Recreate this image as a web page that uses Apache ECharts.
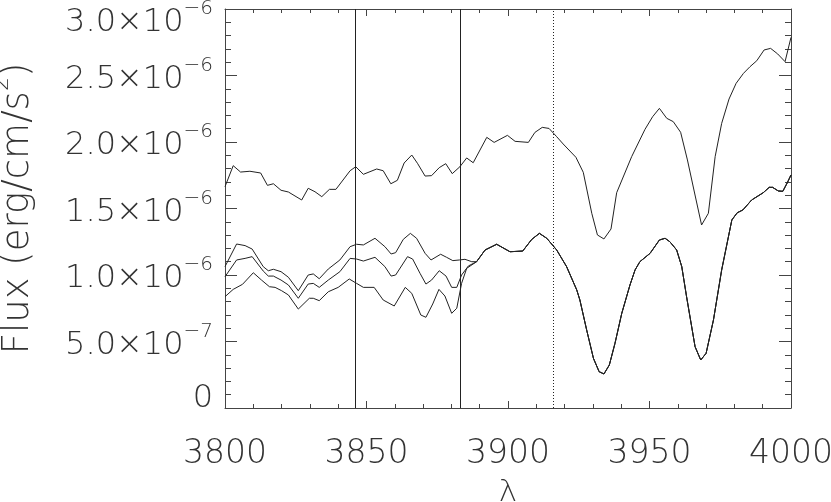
<!DOCTYPE html>
<html>
<head>
<meta charset="utf-8">
<script src="https://cdn.jsdelivr.net/npm/echarts@6/dist/echarts.min.js"></script>
<style>html,body{margin:0;padding:0;background:#fff}#c{width:831px;height:502px}</style>
</head>
<body>
<div id="c"></div>
<script>
// ---- data (flux in units of 1e-6 erg/cm/s^2) ----
const FLUX_UNIT = 1e-6;
const xTicks = [3800, 3850, 3900, 3950, 4000];
const yTicks = [0, 0.5e-6, 1.0e-6, 1.5e-6, 2.0e-6, 2.5e-6, 3.0e-6];
const markerSolid = [3846, 3883];
const markerDotted = [3916];

const upperWave = [3800.0,3802.9,3805.5,3808.8,3812.6,3815.0,3817.1,3819.8,3822.4,3827.1,3829.4,3831.8,3834.2,3836.9,3839.2,3844.2,3846.2,3848.9,3853.6,3855.9,3858.6,3860.9,3863.3,3866.0,3868.0,3870.7,3873.0,3875.7,3878.0,3880.3,3883.0,3885.4,3887.7,3892.5,3895.1,3899.8,3902.5,3907.2,3909.5,3912.1,3914.5,3917.2,3919.5,3924.0,3926.6,3929.6,3931.6,3933.9,3936.4,3938.4,3943.7,3948.4,3951.1,3953.5,3956.1,3958.4,3961.0,3963.4,3965.7,3968.4,3970.8,3973.2,3975.5,3978.1,3980.6,3983.2,3985.5,3987.9,3990.5,3992.8,3995.3,3997.9,4000.0];
const upperFlux = [1.664,1.822,1.774,1.780,1.767,1.674,1.686,1.637,1.624,1.564,1.652,1.626,1.589,1.644,1.644,1.784,1.814,1.757,1.797,1.784,1.686,1.712,1.842,1.902,1.840,1.744,1.747,1.807,1.837,1.762,1.814,1.880,1.844,2.035,1.997,2.050,2.005,1.997,2.072,2.110,2.102,2.040,1.985,1.885,1.772,1.464,1.301,1.271,1.346,1.619,1.890,2.095,2.190,2.253,2.178,2.153,2.073,1.865,1.639,1.376,1.464,1.890,2.140,2.323,2.441,2.516,2.566,2.611,2.692,2.704,2.662,2.604,2.787];

const aWave = [3800.0,3804.1,3807.1,3809.6,3813.5,3815.3,3817.1,3819.8,3822.4,3825.9,3829.4,3831.2,3833.3,3836.5,3840.6,3844.2,3846.5,3848.9,3853.0,3856.5,3858.7,3860.3,3863.0,3865.5,3867.7,3870.7,3872.8,3876.2,3878.3,3880.5,3882.8,3884.8,3887.2];
const aFlux = [1.063,1.233,1.221,1.195,1.063,1.032,1.043,1.025,0.983,0.882,1.000,1.008,0.972,1.045,1.113,1.213,1.231,1.226,1.276,1.213,1.158,1.168,1.268,1.313,1.276,1.163,1.113,1.156,1.133,1.108,1.113,1.118,1.100];

const bWave = [3800.0,3804.1,3807.1,3809.6,3813.5,3815.3,3817.1,3819.8,3822.4,3825.9,3829.4,3831.2,3833.3,3836.5,3840.6,3844.2,3846.5,3848.9,3853.0,3856.5,3858.7,3860.3,3864.5,3866.3,3868.9,3871.0,3873.0,3875.7,3878.1,3880.1,3881.9,3883.6,3886.0];
const bFlux = [0.987,1.113,1.125,1.138,1.030,0.992,0.992,0.962,0.925,0.825,0.932,0.937,0.907,0.962,1.025,1.125,1.120,1.105,1.133,1.063,0.992,1.000,1.138,1.120,1.013,0.932,0.962,1.032,0.992,0.907,0.907,1.000,1.068];

const cWave = [3800.0,3802.9,3806.2,3810.0,3812.9,3815.7,3817.7,3820.0,3822.4,3825.9,3829.8,3831.2,3833.3,3836.5,3840.0,3843.9,3846.5,3848.9,3852.7,3855.9,3859.8,3863.7,3866.0,3869.2,3871.0,3873.4,3875.6,3877.7,3880.1,3881.9,3883.6,3885.4];
const cFlux = [0.837,0.892,0.930,1.017,0.962,0.912,0.907,0.882,0.850,0.744,0.825,0.825,0.807,0.874,0.907,0.970,0.937,0.907,0.907,0.812,0.767,0.907,0.862,0.699,0.682,0.782,0.892,0.842,0.712,0.750,0.937,1.050];

// shared tail of the three lower spectra
const tailWave = [3888.9,3891.9,3896.0,3900.7,3905.2,3908.4,3911.1,3913.7,3917.2,3920.7,3924.3,3925.4,3927.8,3930.2,3932.2,3933.9,3935.8,3937.8,3940.2,3943.1,3944.9,3946.6,3950.2,3953.5,3955.5,3957.2,3959.6,3961.4,3963.1,3966.1,3968.1,3970.0,3972.6,3975.5,3979.1,3981.0,3983.0,3986.1,3990.2,3992.3,3993.5,3995.5,3997.1,3998.7,4000.0];
const tailFlux = [1.100,1.188,1.231,1.175,1.180,1.268,1.313,1.276,1.188,1.063,0.887,0.812,0.586,0.373,0.273,0.256,0.323,0.486,0.712,0.925,1.038,1.100,1.163,1.263,1.276,1.250,1.188,1.063,0.837,0.461,0.361,0.411,0.662,1.038,1.414,1.468,1.489,1.564,1.619,1.659,1.659,1.632,1.629,1.694,1.752];

// ---- build ----
function pairs(w, f){ return w.map((x,i)=>[x, f[i]*FLUX_UNIT]); }
const upper = pairs(upperWave, upperFlux);
const lowA = pairs(aWave.concat(tailWave), aFlux.concat(tailFlux));
const lowB = pairs(bWave.concat(tailWave), bFlux.concat(tailFlux));
const lowC = pairs(cWave.concat(tailWave), cFlux.concat(tailFlux));

const FONT = 'DejaVu Sans';
const TXT = '#333';
const AX = '#444';
const LINE = '#222';

function yLabel(v){
  if (Math.abs(v) < 1e-12) return '{z|0}\n{gz| }';
  let m = v / 1e-6, e = 6;
  if (m < 0.99) { m *= 10; e = 7; }
  const s = '{m|' + m.toFixed(1) + '×10}{s|−' + e + '}';
  if (Math.abs(v - 3e-6) < 1e-12) return '{gt| }\n' + s;
  return s;
}

const lineSeries = (data) => ({
  type: 'line', data: data, showSymbol: false, symbol: 'none', silent: true,
  lineStyle: { color: LINE, width: 1 }, animation: false, z: 3
});

const axisCommonX = {
  type: 'value', min: xTicks[0], max: xTicks[xTicks.length-1], interval: 50,
  axisLine: { show: true, onZero: false, lineStyle: { color: AX, width: 1 } },
  axisTick: { show: true, inside: true, length: 7, lineStyle: { color: AX } },
  minorTick: { show: true, splitNumber: 5, length: 4, lineStyle: { color: AX } },
  splitLine: { show: false }, minorSplitLine: { show: false }
};
const axisCommonY = {
  type: 'value', min: yTicks[0], max: yTicks[yTicks.length-1], interval: 5e-7,
  axisLine: { show: true, onZero: false, lineStyle: { color: AX, width: 1 } },
  axisTick: { show: true, inside: true, length: 12, lineStyle: { color: AX } },
  minorTick: { show: true, splitNumber: 5, length: 6, lineStyle: { color: AX } },
  splitLine: { show: false }, minorSplitLine: { show: false }
};

const chart = echarts.init(document.getElementById('c'), null, { renderer: 'canvas' });
chart.setOption({
  animation: false,
  backgroundColor: '#fff',
  grid: { left: 225, right: 40, top: 9, bottom: 94, containLabel: false, outerBoundsMode: 'none' },
  xAxis: [
    Object.assign({}, axisCommonX, {
      position: 'bottom',
      axisLabel: { show: true, margin: 30, fontSize: 33, fontFamily: FONT, fontWeight: 200, color: TXT,
        formatter: v => String(v) },
      name: 'λ', nameLocation: 'middle', nameGap: 69,
      nameTextStyle: { fontSize: 31, fontFamily: FONT, fontWeight: 200, color: TXT }
    }),
    Object.assign({}, axisCommonX, { position: 'top', axisLabel: { show: false } })
  ],
  yAxis: [
    Object.assign({}, axisCommonY, {
      position: 'left',
      axisLabel: { show: true, margin: 12, formatter: yLabel, color: TXT, fontFamily: FONT, fontWeight: 200,
        rich: {
          m:  { fontSize: 32, fontFamily: FONT, fontWeight: 200, color: TXT, lineHeight: 40, verticalAlign: 'bottom' },
          s:  { fontSize: 20, fontFamily: FONT, fontWeight: 200, color: TXT, lineHeight: 24, verticalAlign: 'top' },
          z:  { fontSize: 32, fontFamily: FONT, fontWeight: 200, color: TXT, lineHeight: 32, verticalAlign: 'middle' },
          gz: { fontSize: 10, lineHeight: 18 },
          gt: { fontSize: 10, lineHeight: 20 }
        }
      },
      name: '{n|Flux (erg/cm/s}{p|2}{n|)}', nameLocation: 'middle', nameRotate: 90, nameGap: 188,
      nameTextStyle: { color: TXT, rich: {
        n: { fontSize: 37, fontFamily: FONT, fontWeight: 200, color: TXT, lineHeight: 46, verticalAlign: 'bottom' },
        p: { fontSize: 22, fontFamily: FONT, fontWeight: 200, color: TXT, lineHeight: 26, verticalAlign: 'top' }
      } }
    }),
    Object.assign({}, axisCommonY, { position: 'right', axisLabel: { show: false } })
  ],
  series: [
    Object.assign(lineSeries(upper), {
      markLine: {
        silent: true, symbol: 'none', animation: false,
        label: { show: false },
        data: markerSolid.map(x => ({ xAxis: x, lineStyle: { type: 'solid', color: LINE, width: 1 } }))
          .concat(markerDotted.map(x => ({ xAxis: x, lineStyle: { type: [1, 2], color: LINE, width: 1 } })))
      }
    }),
    lineSeries(lowA),
    lineSeries(lowB),
    lineSeries(lowC)
  ]
});
</script>
</body>
</html>
